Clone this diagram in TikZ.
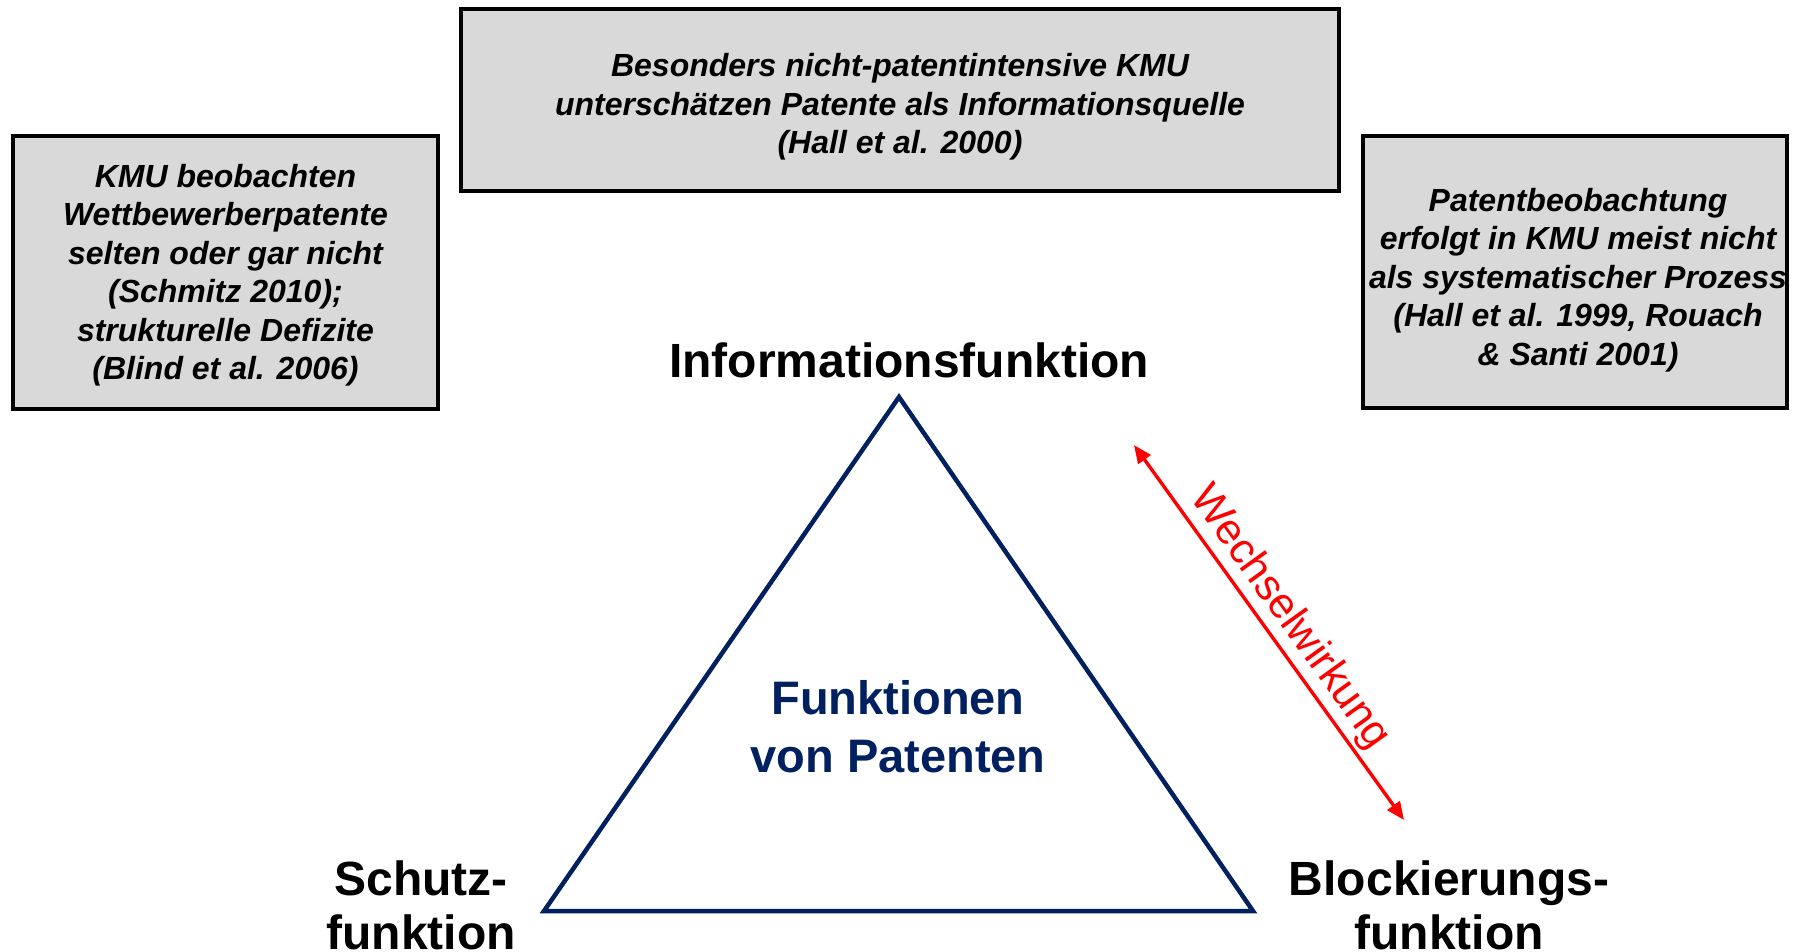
\documentclass[tikz,border=0pt]{standalone}
\usepackage{fontspec}
\setmainfont{Liberation Sans}
\usetikzlibrary{arrows.meta}
\definecolor{navy}{HTML}{002060}
\definecolor{boxgray}{HTML}{D9D9D9}
\definecolor{wred}{HTML}{FF0000}
\begin{document}
\begin{tikzpicture}[x=1pt,y=-1pt,
  notebox/.style={draw=black, line width=4pt, fill=boxgray, inner sep=0pt},
  notetext/.style={align=center, inner sep=0pt,
    font=\bfseries\itshape\fontsize{32}{38.5}\selectfont},
  funclabel/.style={align=center, inner sep=0pt, font=\bfseries\fontsize{48}{54}\selectfont},
  centerlabel/.style={align=center, inner sep=0pt, text=navy, font=\bfseries\fontsize{47}{58}\selectfont},
  triline/.style={draw=navy, line width=4.5pt},
  interarrow/.style={draw=wred, line width=3.4pt, {Triangle[length=18pt,width=15pt]}-{Triangle[length=18pt,width=15pt]}},
  interlabel/.style={text=wred, font=\fontsize{43}{43}\selectfont}]
\useasboundingbox (0,0) rectangle (1793,951);

% note boxes
\node[notebox, minimum width=878pt, minimum height=182pt] (top) at (900,100) {};
\node[notetext] (toptext) at (900,107)
  {Besonders nicht-patentintensive KMU\\unterschätzen Patente als Informationsquelle\\(Hall et al. 2000)};
\node[notebox, minimum width=425pt, minimum height=273pt] (left) at (225.5,272.5) {};
\node[notetext] (lefttext) at (225.5,275)
  {KMU beobachten\\Wettbewerberpatente\\selten oder gar nicht\\(Schmitz 2010);\\strukturelle Defizite\\(Blind et al. 2006)};
\node[notebox, minimum width=424pt, minimum height=272pt] (right) at (1575,272) {};
\node[notetext] (righttext) at (1578,280)
  {Patentbeobachtung\\erfolgt in KMU meist nicht\\als systematischer Prozess\\(Hall et al. 1999, Rouach\\\& Santi 2001)};

% triangle
\coordinate (apex) at (899,397);
\coordinate (bl) at (544,911);
\coordinate (br) at (1253,911);
\draw[triline] (apex) -- (bl) -- (br) -- cycle;

% labels
\node[funclabel] (info) at (909,360) {Informationsfunktion};
\node[funclabel] (schutz) at (421,905) {Schutz-\\funktion};
\node[funclabel] (block) at (1449,905) {Blockierungs-\\funktion};
\node[centerlabel] (center) at (898,727) {Funktionen\\von Patenten};

% interaction arrow
\coordinate (wa) at (1134,445);
\coordinate (wb) at (1404,820);
\draw[interarrow] (wa) -- node[interlabel, midway, sloped, above] (wlabel) {Wechselwirkung} (wb);
\end{tikzpicture}
\end{document}
